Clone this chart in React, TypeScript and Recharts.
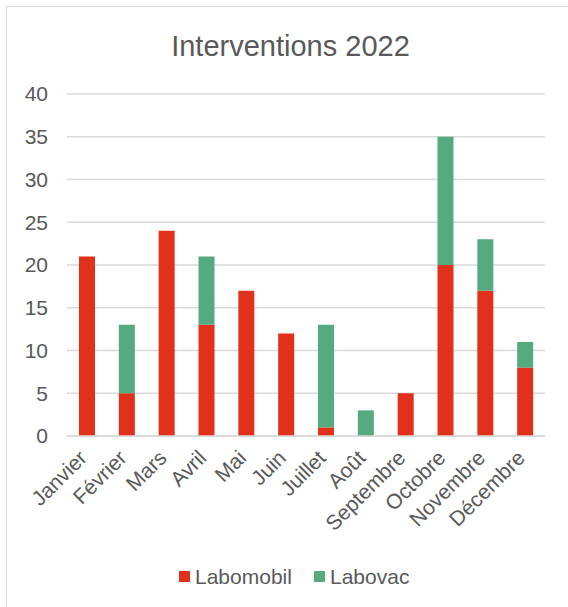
import React from 'react';
import { BarChart, Bar, XAxis, YAxis, CartesianGrid } from 'recharts';

const months = [
  'Janvier', 'Février', 'Mars', 'Avril', 'Mai', 'Juin',
  'Juillet', 'Août', 'Septembre', 'Octobre', 'Novembre', 'Décembre',
];
const labomobil = [21, 5, 24, 13, 17, 12, 1, 0, 5, 20, 17, 8];
const labovac = [0, 8, 0, 8, 0, 0, 12, 3, 0, 15, 6, 3];
const yTicks = [0, 5, 10, 15, 20, 25, 30, 35, 40];

const RED = '#E2311B';
const GREEN = '#55AA80';
const TEXT = '#595959';
const FONT = '"Liberation Sans", Arial, sans-serif';
const TICK_FS = 21;

const data = months.map((m, i) => ({ month: m, Labomobil: labomobil[i], Labovac: labovac[i] }));

// rotated -45° month labels, anchored at their end like Excel
function MonthTick({ x, y, payload }: any) {
  return (
    <g transform={`translate(${x - 3},${y + 11})`}>
      <text
        x={0}
        y={0}
        dy={6}
        textAnchor="end"
        transform="rotate(-45)"
        fill={TEXT}
        fontSize={TICK_FS}
        fontFamily={FONT}
      >
        {payload.value}
      </text>
    </g>
  );
}

const sq = (c: string) => ({
  position: 'absolute' as const,
  top: 564,
  width: 11,
  height: 11,
  background: c,
});

export default function App() {
  return (
    <div
      style={{
        position: 'fixed',
        left: 6,
        top: 6,
        width: 570,
        height: 610,
        border: '1px solid #d9d9d9',
        background: '#fff',
        fontFamily: FONT,
      }}
    >
      <div
        style={{
          position: 'absolute',
          top: 25,
          left: 0,
          width: 567,
          textAlign: 'center',
          fontSize: 29,
          lineHeight: '29px',
          color: TEXT,
        }}
      >
        Interventions 2022
      </div>
      <BarChart
        width={560}
        height={600}
        data={data}
        margin={{ top: 87, right: 22, bottom: 0, left: 0 }}
        barSize={16}
      >
        <CartesianGrid vertical={false} stroke="#d9d9d9" strokeWidth={1.5} />
        <XAxis
          dataKey="month"
          interval={0}
          height={171}
          tickLine={false}
          axisLine={{ stroke: '#d9d9d9', strokeWidth: 1.5 }}
          tick={<MonthTick />}
        />
        <YAxis
          domain={[0, 40]}
          ticks={yTicks}
          width={60}
          axisLine={false}
          tickLine={false}
          tickMargin={13}
          tick={{ fill: TEXT, fontSize: TICK_FS, fontFamily: FONT }}
        />
        <Bar dataKey="Labomobil" stackId="a" fill={RED} isAnimationActive={false} />
        <Bar dataKey="Labovac" stackId="a" fill={GREEN} isAnimationActive={false} />
      </BarChart>
      <div style={{ ...sq(RED), left: 172 }} />
      <div
        style={{
          position: 'absolute',
          top: 559,
          left: 188,
          fontSize: 21,
          lineHeight: '21px',
          color: TEXT,
        }}
      >
        Labomobil
      </div>
      <div style={{ ...sq(GREEN), left: 307 }} />
      <div
        style={{
          position: 'absolute',
          top: 559,
          left: 323,
          fontSize: 21,
          lineHeight: '21px',
          color: TEXT,
        }}
      >
        Labovac
      </div>
    </div>
  );
}
